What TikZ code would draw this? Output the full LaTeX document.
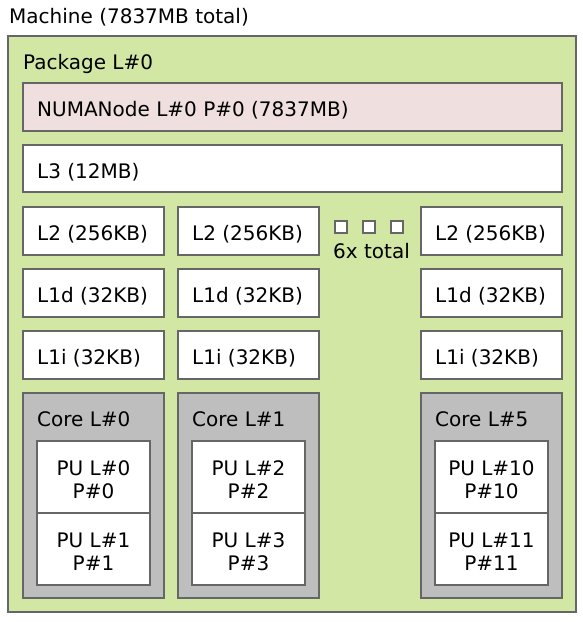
\documentclass[tikz,border=0pt]{standalone}
\usepackage{fontspec}
\setmainfont{DejaVu Sans}
\definecolor{pkg}{HTML}{D2E7A4}
\definecolor{numa}{HTML}{EFDFDE}
\definecolor{corefill}{HTML}{BEBEBE}
\definecolor{bord}{HTML}{666666}
\tikzset{
  box/.style={draw=bord, line width=1.4pt},
  lbl/.style={anchor=base west, inner sep=0pt, font=\fontsize{20}{23}\selectfont},
  clbl/.style={anchor=base, inner sep=0pt, font=\fontsize{20}{23}\selectfont},
}
% \cbox{name}{x}{y}{w}{h}{fill}{text}
\newcommand\cbox[7]{%
  \path[box, fill=#6] (#2,#3) rectangle ++(#4,#5);
  \node[lbl] (#1) at ({#2+14},{#3+33}) {#7};
}
% \pubox{name}{x}{y}{line1}{line2}
\newcommand\pubox[5]{%
  \path[box, fill=white] (#2,#3) rectangle ++(113,72);
  \node[clbl] (#1a) at ({#2+56.5},{#3+34}) {#4};
  \node[clbl] (#1b) at ({#2+56.5},{#3+57}) {#5};
}
\begin{document}
\begin{tikzpicture}[x=1pt,y=-1pt]
\useasboundingbox (0,0) rectangle (583,622);
\fill[white] (0,0) rectangle (583,622);
\node[lbl] (machine) at (9,23) {Machine (7837MB total)};
\path[box, fill=pkg] (8,36) rectangle (576,612);
\node[lbl] (package) at (23,69) {Package L\#0};
\cbox{numa}{23}{83}{539}{48}{numa}{NUMANode L\#0 P\#0 (7837MB)}
\cbox{l3}{23}{145}{539}{47}{white}{L3 (12MB)}
\foreach \cx/\i in {23/0,178/1,421/5}{
  \cbox{l2-\i}{\cx}{207}{141}{48}{white}{L2 (256KB)}
  \cbox{l1d-\i}{\cx}{269}{141}{48}{white}{L1d (32KB)}
  \cbox{l1i-\i}{\cx}{331}{141}{48}{white}{L1i (32KB)}
}
\cbox{core0}{23}{393}{141}{205}{corefill}{Core L\#0}
\cbox{core1}{178}{393}{141}{205}{corefill}{Core L\#1}
\cbox{core5}{421}{393}{141}{205}{corefill}{Core L\#5}
\pubox{pu0}{37}{441}{PU L\#0}{P\#0}
\pubox{pu1}{37}{513}{PU L\#1}{P\#1}
\pubox{pu2}{192}{441}{PU L\#2}{P\#2}
\pubox{pu3}{192}{513}{PU L\#3}{P\#3}
\pubox{pu10}{435}{441}{PU L\#10}{P\#10}
\pubox{pu11}{435}{513}{PU L\#11}{P\#11}
\foreach \sx in {335,363,391}{
  \path[box, fill=white] (\sx,221) rectangle ++(12,12);
}
\node[lbl] (total) at (333,258) {6x total};
\end{tikzpicture}
\end{document}
